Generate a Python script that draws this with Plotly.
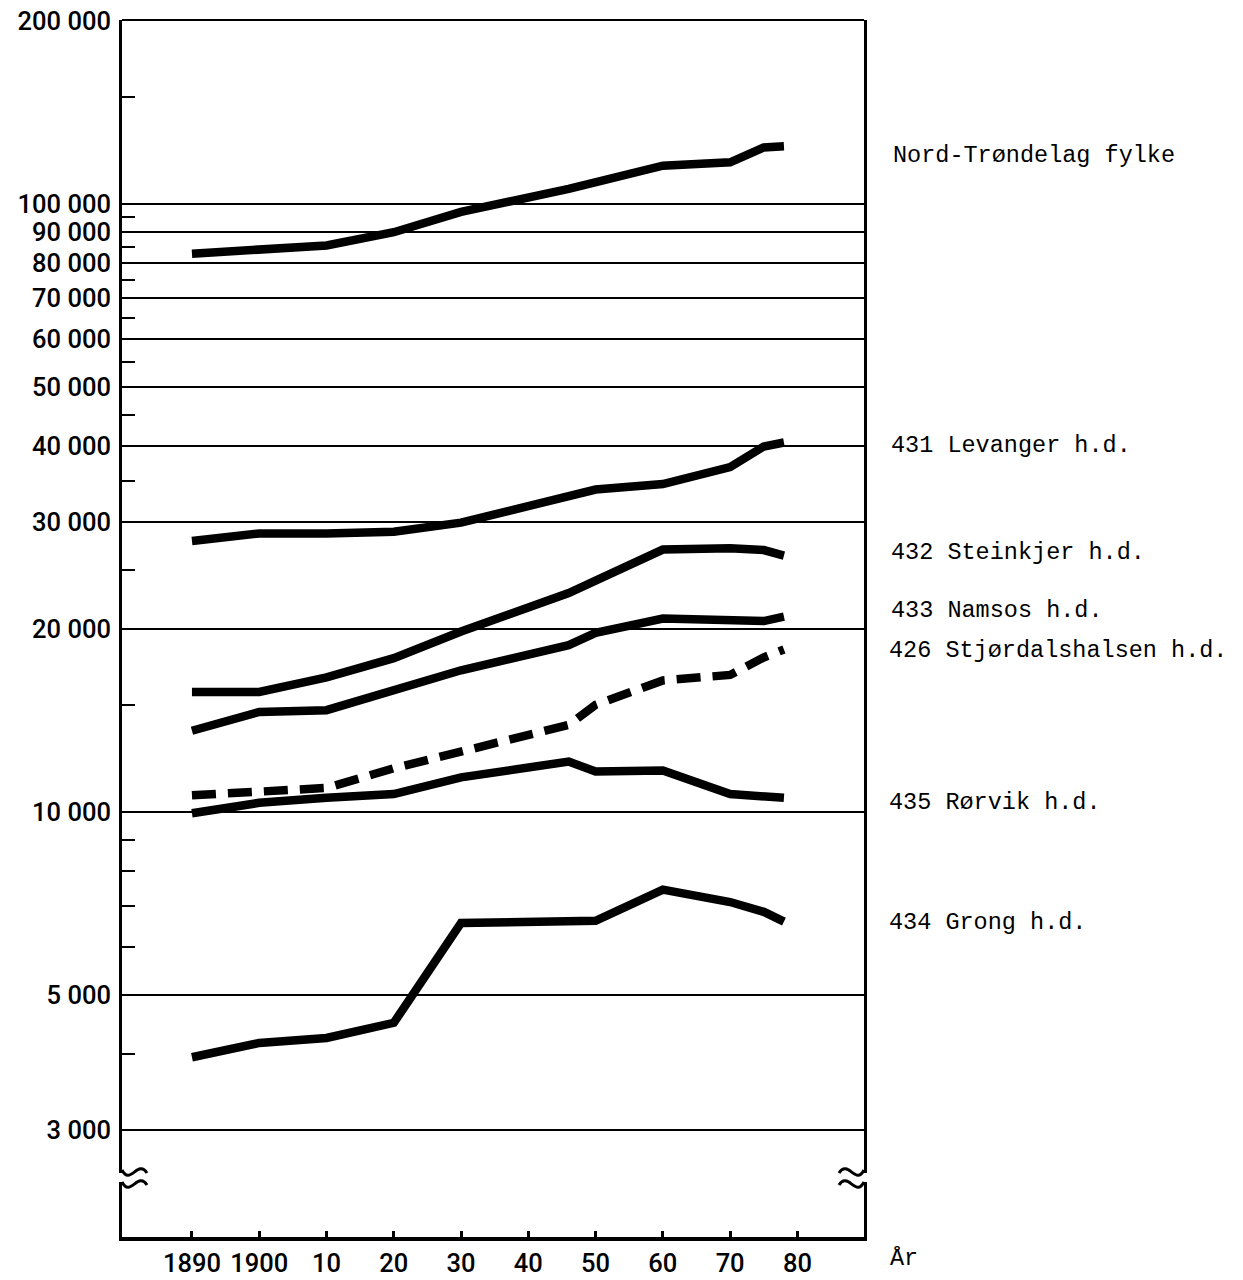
import math
import plotly.graph_objects as go

# ---- data ----
years = [1890, 1900, 1910, 1920, 1930, 1946, 1950, 1960, 1970, 1975, 1978]

nord_trondelag = [82800, 84000, 85400, 89800, 97000, 105800, 108500, 115500, 117000, 123800, 124300]
levanger       = [27900, 28700, 28700, 28900, 29900, 33200, 33900, 34600, 36900, 39900, 40500]
steinkjer      = [15750, 15750, 16650, 17900, 19800, 22900, 24000, 27000, 27150, 26950, 26400]
namsos         = [13600, 14600, 14700, 15900, 17100, 18800, 19700, 20800, 20650, 20600, 20950]
stjordal       = [10650, 10800, 10950, 11800, 12550, 13900, 15000, 16450, 16800, 17950, 18500]
rorvik         = [9950, 10350, 10550, 10700, 11400, 12100, 11650, 11700, 10700, 10650, 10550]
grong          = [3950, 4170, 4250, 4500, 6570, 6580, 6620, 7450, 7110, 6850, 6600]

series_names = ["Nord-Trøndelag fylke", "431 Levanger h.d.", "432 Steinkjer h.d.",
                "433 Namsos h.d.", "426 Stjørdalshalsen h.d.", "435 Rørvik h.d.",
                "434 Grong h.d."]
series_values = [nord_trondelag, levanger, steinkjer, namsos, stjordal, rorvik, grong]
series_dash = ["solid", "solid", "solid", "solid", "24px,12px", "solid", "solid"]
label_y_paper = [0.8890, 0.6500, 0.5622, 0.5152, 0.4816, 0.3567, 0.2581]
label_x_paper = [1.0364, 1.0337, 1.0337, 1.0337, 1.0310, 1.0310, 1.0310]

x_tickvals = [1890, 1900, 1910, 1920, 1930, 1940, 1950, 1960, 1970, 1980]
x_ticktext = ["1890", "1900", "10", "20", "30", "40", "50", "60", "70", "80"]

y_gridvals = [3000, 5000, 10000, 20000, 30000, 40000, 50000, 60000, 70000, 80000,
              90000, 100000, 200000]
y_gridtext = ["3 000", "5 000", "10 000", "20 000", "30 000", "40 000", "50 000",
              "60 000", "70 000", "80 000", "90 000", "100 000", "200 000"]
y_minor = [4000, 6000, 7000, 8000, 9000, 15000, 25000, 35000, 45000, 55000,
           65000, 75000, 85000, 95000, 150000]

y_range = [math.log10(2000), math.log10(200000) + 0.0012]
x_range = [1879.6, 1989.9]

# plot-area geometry in pixels (used only for decoration placement)
PL, PR, PT, PB = 122, 864, 20, 1237


def px(x):
    return (x - PL) / (PR - PL)


def py(y):
    return 1 - (y - PT) / (PB - PT)


fig = go.Figure()
for name, vals, dash in zip(series_names, series_values, series_dash):
    fig.add_trace(go.Scatter(
        x=years, y=vals, mode="lines", name=name,
        line=dict(color="black", width=8.5, dash=dash, shape="linear"),
        hoverinfo="skip", showlegend=False))

# series labels to the right of the frame
for name, ly, lx in zip(series_names, label_y_paper, label_x_paper):
    fig.add_annotation(text=name, x=lx, y=ly, xref="paper", yref="paper",
                       xanchor="left", yanchor="middle", showarrow=False,
                       font=dict(family="Liberation Mono", size=23.5, color="black"))

# axis title "År"
fig.add_annotation(text="År", x=1.032, y=py(1258), xref="paper", yref="paper",
                   xanchor="left", yanchor="middle", showarrow=False,
                   font=dict(family="Liberation Mono", size=23.5, color="black"))

# top frame line
fig.add_shape(type="line", xref="paper", yref="paper", x0=0, x1=1, y0=1, y1=1,
              line=dict(color="black", width=2), layer="above")


# axis break marks (two small waves on each vertical frame line)
def wave(x0, dirx, y0):
    pts = [(x0, y0), (x0 + dirx * 8, y0 + 16), (x0 + dirx * 16, y0 - 11), (x0 + dirx * 25, y0 + 3)]
    (a, b), (c, d), (e, f), (g, h) = [(px(p[0]), py(p[1])) for p in pts]
    return f"M {a},{b} C {c},{d} {e},{f} {g},{h}"


for x0, dirx in [(PL, 1), (PR, -1)]:
    fig.add_shape(type="rect", xref="paper", yref="paper",
                  x0=px(x0 - 3), x1=px(x0 + 3), y0=py(1182), y1=py(1173),
                  line=dict(width=0), fillcolor="white", layer="above")
    for y0 in (1170, 1182):
        fig.add_shape(type="path", xref="paper", yref="paper", path=wave(x0, dirx, y0),
                      line=dict(color="black", width=3), layer="above")

tick_font = dict(family="Roboto", size=25.5, color="black", weight=500)

fig.update_layout(
    width=1243, height=1280,
    margin=dict(l=PL, r=1243 - PR, t=PT, b=1280 - PB, pad=0, autoexpand=False),
    paper_bgcolor="white", plot_bgcolor="white",
    showlegend=False, hovermode=False,
    xaxis=dict(
        range=x_range, tickmode="array", tickvals=x_tickvals, ticktext=x_ticktext,
        ticks="inside", ticklen=6, tickwidth=3, tickcolor="black",
        showline=True, linewidth=3.5, linecolor="black", mirror=False,
        showgrid=False, zeroline=False, automargin=False,
        tickfont=tick_font, ticklabeloverflow="allow",
        ticklabelstandoff=1,
    ),
    yaxis=dict(
        type="log", range=y_range, tickmode="array", tickvals=y_gridvals,
        ticktext=y_gridtext, ticks="",
        showline=True, linewidth=3, linecolor="black", mirror=True,
        showgrid=True, gridcolor="black", gridwidth=2,
        zeroline=False, automargin=False,
        tickfont=tick_font, ticklabeloverflow="allow",
        ticklabelstandoff=3,
        minor=dict(tickmode="array", tickvals=y_minor, ticks="inside",
                   ticklen=13, tickwidth=2, tickcolor="black", showgrid=False),
    ),
    yaxis2=dict(
        type="log", range=y_range, overlaying="y", side="right", anchor="x",
        tickmode="array", tickvals=[], ticks="", showticklabels=False,
        showline=False, showgrid=False, zeroline=False, automargin=False,
        minor=dict(tickmode="array", tickvals=y_minor, ticks="inside",
                   ticklen=13, tickwidth=2, tickcolor="black", showgrid=False),
    ),
)

fig.write_html("out.html",
               config={"displayModeBar": False, "staticPlot": True},
               post_script="document.body.style.margin='0px';document.body.style.overflow='hidden';")
